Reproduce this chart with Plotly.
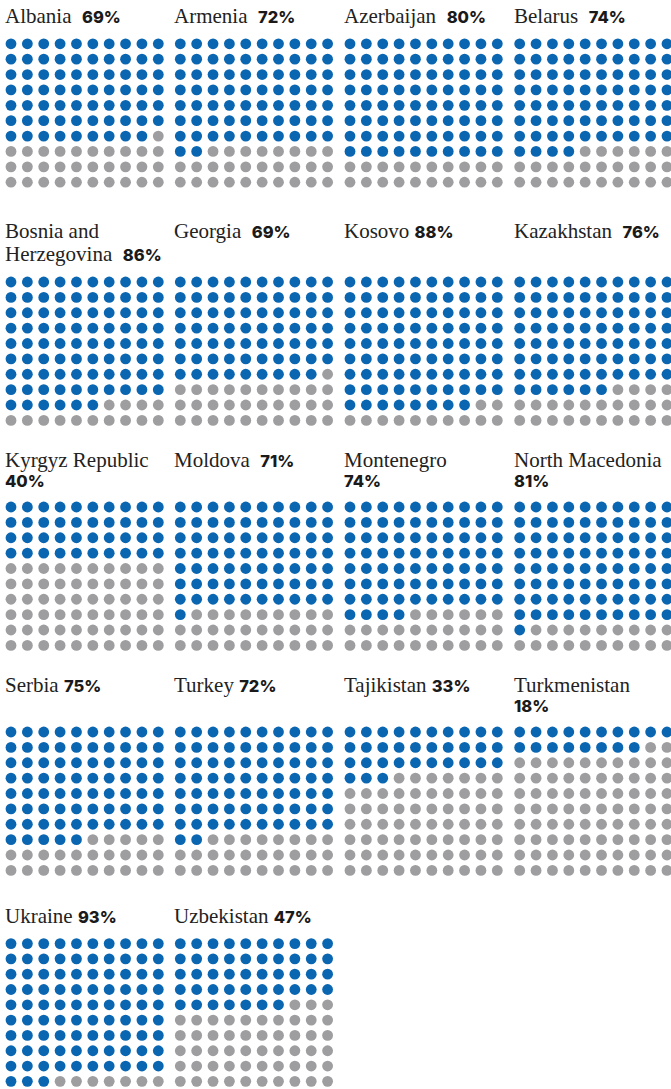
import plotly.graph_objects as go

# ---- data ----
countries = ["Albania", "Armenia", "Azerbaijan", "Belarus",
             "Bosnia and<br>Herzegovina", "Georgia", "Kosovo", "Kazakhstan",
             "Kyrgyz Republic", "Moldova", "Montenegro", "North Macedonia",
             "Serbia", "Turkey", "Tajikistan", "Turkmenistan",
             "Ukraine", "Uzbekistan"]
shares = [69, 72, 80, 74,
          86, 69, 88, 76,
          40, 71, 74, 81,
          75, 72, 33, 18,
          93, 47]
separators = ["  ", "  ", "  ", "  ",
              "  ", "  ", " ", "  ",
              "<br>", "  ", "<br>", "<br>",
              " ", " ", " ", "<br>",
              " ", " "]

# ---- layout constants ----
W, H = 671, 1089
BLUE = "#0a66b1"
GREY = "#9e9d9f"
TEXT = "#222222"
col_first_dot_x = [11.0, 180.3, 350.0, 519.7]
row_first_dot_y = [43.8, 282.0, 507.0, 732.0, 943.6]
row_title_top = [8.3, 223.3, 451.7, 677.3, 908.3]
dx = 147.3 / 9
dy = 138.4 / 9
LINE_GAP = 23

fig = go.Figure()
annotations = []
layout_axes = {}

for i, (name, share, sep) in enumerate(zip(countries, shares, separators)):
    c, r = i % 4, i // 4
    ax_id = "" if i == 0 else str(i + 1)
    xs = [k % 10 for k in range(100)]
    ys = [k // 10 for k in range(100)]
    colors = [BLUE if k < share else GREY for k in range(100)]
    fig.add_trace(go.Scatter(
        x=xs, y=ys, mode="markers",
        marker=dict(size=10.8, color=colors, line=dict(width=0)),
        xaxis="x" + ax_id, yaxis="y" + ax_id, cliponaxis=True,
        hoverinfo="skip", showlegend=False))
    x0 = col_first_dot_x[c] - dx / 2
    x1 = col_first_dot_x[c] + 9 * dx + dx / 2
    xr1 = 9.5
    if x1 > W:
        xr1 = -0.5 + (W - x0) / dx
        x1 = W
    y0 = row_first_dot_y[r] - dy / 2
    y1 = row_first_dot_y[r] + 9 * dy + dy / 2
    layout_axes["xaxis" + ax_id] = dict(domain=[x0 / W, x1 / W], range=[-0.5, xr1],
                                        visible=False, fixedrange=True,
                                        anchor="y" + ax_id)
    layout_axes["yaxis" + ax_id] = dict(domain=[max(0, 1 - y1 / H), 1 - y0 / H],
                                        range=[9.5, -0.5],
                                        visible=False, fixedrange=True,
                                        anchor="x" + ax_id)

    pct = ("<span style=\"font-family:Inter;font-weight:800;font-size:16.5px;color:#1a1a1a\">"
           f"{share}%</span>")
    full = name + sep + pct
    lines = full.split("<br>")
    for li, line in enumerate(lines):
        annotations.append(dict(
            text=line, xref="paper", yref="paper",
            x=(col_first_dot_x[c] - 7) / W,
            y=1 - (row_title_top[r] - 5 + li * LINE_GAP) / H,
            xanchor="left", yanchor="top", showarrow=False,
            font=dict(family="Liberation Serif", size=21, color=TEXT),
            align="left", borderpad=0))

fig.update_layout(
    width=W, height=H, autosize=False,
    margin=dict(l=0, r=0, t=0, b=0),
    paper_bgcolor="white", plot_bgcolor="white",
    annotations=annotations,
    **layout_axes)

fig.write_html("out.html",
               config={"displayModeBar": False, "staticPlot": True},
               post_script="document.body.style.margin='0';"
                           "document.body.style.overflow='hidden';")
